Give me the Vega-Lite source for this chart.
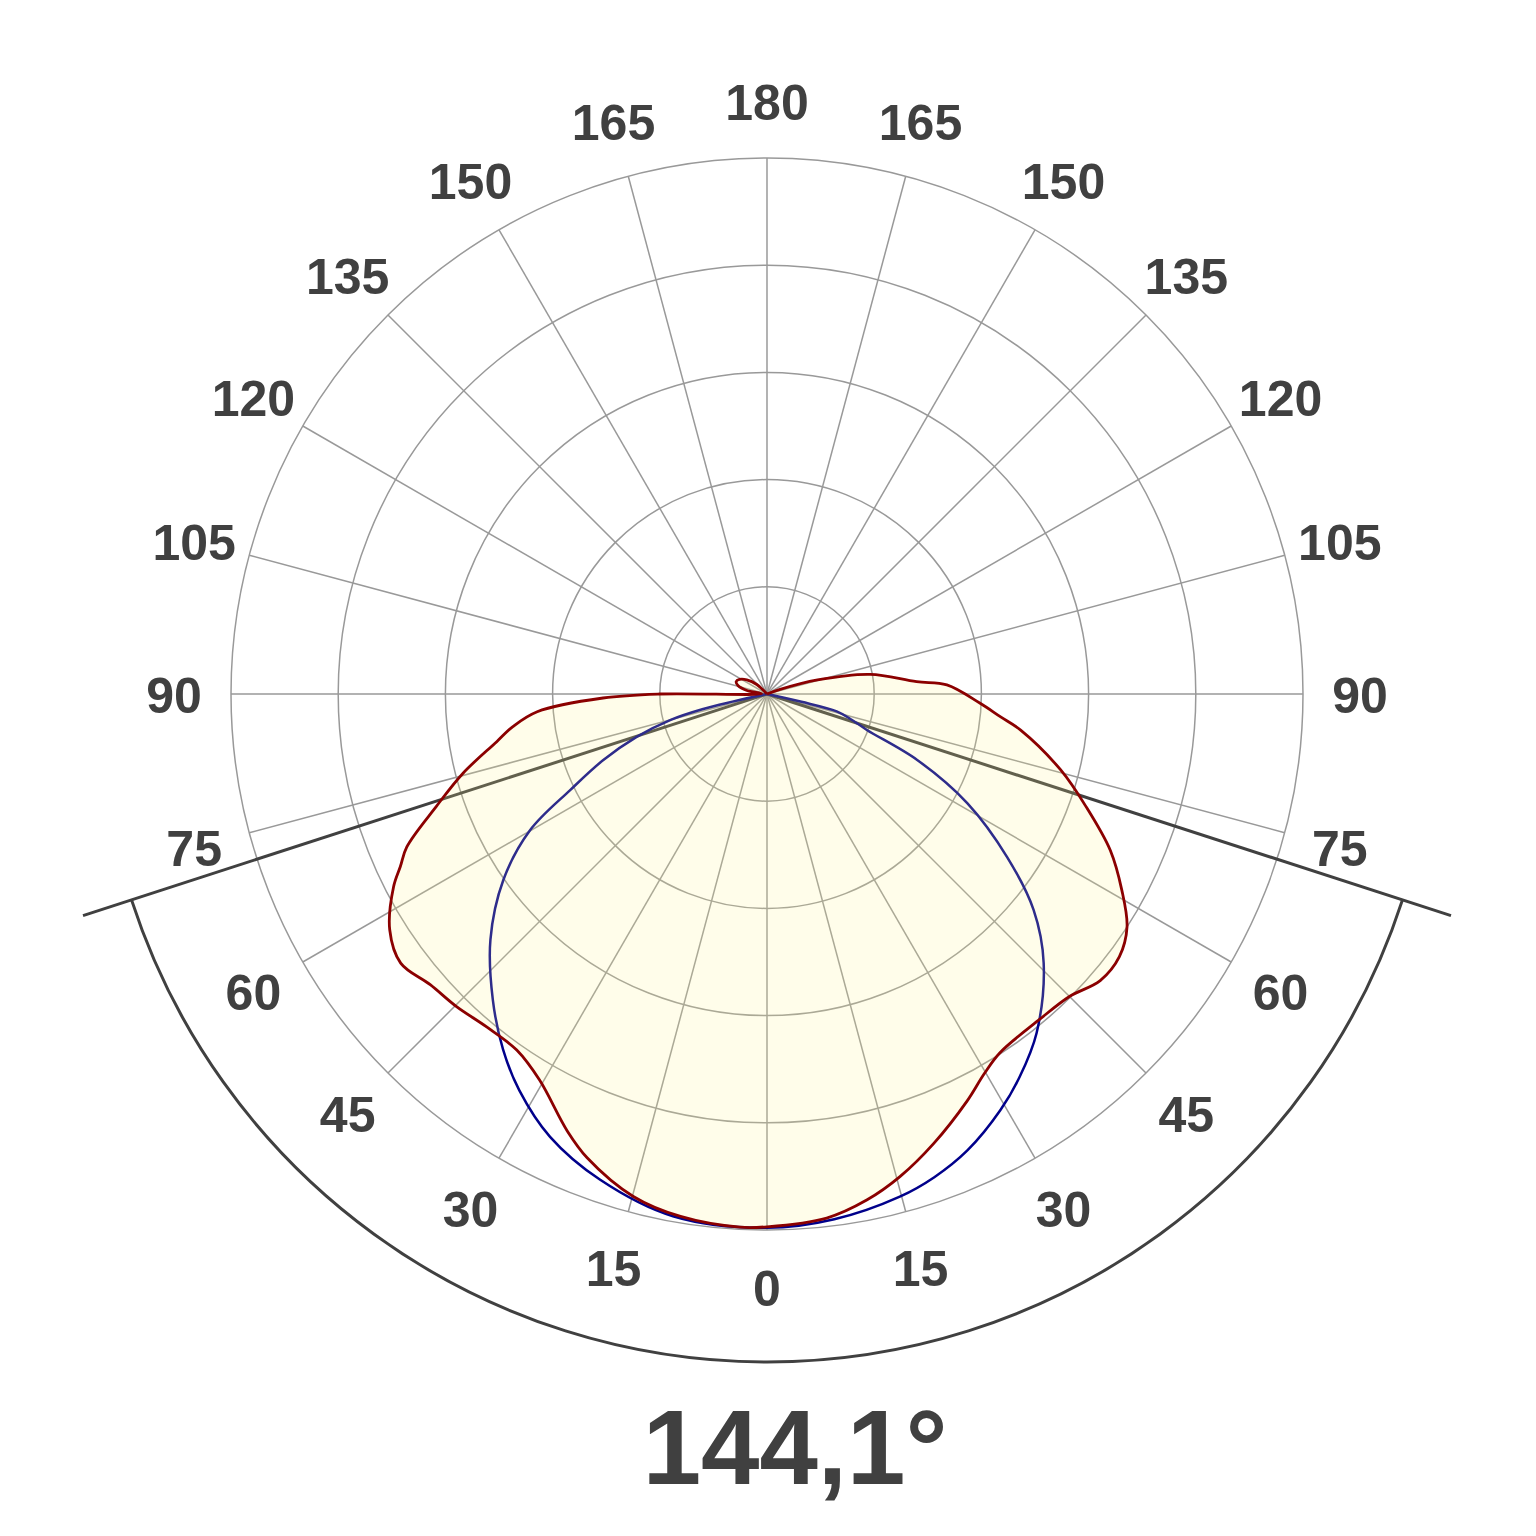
{
  "$schema": "https://vega.github.io/schema/vega-lite/v6.json",
  "width": 1536,
  "height": 1536,
  "padding": 0,
  "autosize": {"type": "none"},
  "background": "white",
  "config": {"view": {"stroke": null}},
  "title": {"text": "144,1°", "orient": "bottom", "frame": "group", "anchor": "middle", "baseline": "alphabetic", "offset": -52, "dx": 27, "fontSize": 105, "fontWeight": "bold", "color": "#404040", "font": "Liberation Sans"},
  "datasets": {
    "red": [
      {"a": -140, "v": 0}, {"a": -133, "v": 13}, {"a": -125, "v": 23}, {"a": -118, "v": 29}, {"a": -112, "v": 31}, {"a": -106, "v": 28}, {"a": -100, "v": 19}, {"a": -93, "v": 5},
      {"a": -90, "v": 100}, {"a": -88.6, "v": 153}, {"a": -85.6, "v": 215}, {"a": -82.7, "v": 239}, {"a": -80, "v": 256}, {"a": -75.4, "v": 293}, {"a": -71.2, "v": 326}, {"a": -67, "v": 365},
      {"a": -64.8, "v": 378}, {"a": -62.7, "v": 392}, {"a": -58, "v": 415}, {"a": -53.7, "v": 424}, {"a": -49.2, "v": 415}, {"a": -44.8, "v": 411}, {"a": -40.1, "v": 406}, {"a": -35.1, "v": 406},
      {"a": -30.5, "v": 418}, {"a": -24.6, "v": 448}, {"a": -21.2, "v": 464}, {"a": -14.9, "v": 485}, {"a": -9.4, "v": 494}, {"a": -2.9, "v": 498}, {"a": 0, "v": 497},
      {"a": 6.5, "v": 492}, {"a": 11.2, "v": 481}, {"a": 15.4, "v": 467}, {"a": 20.4, "v": 447}, {"a": 26.2, "v": 423}, {"a": 29.8, "v": 408}, {"a": 33, "v": 399}, {"a": 40, "v": 396},
      {"a": 45, "v": 399}, {"a": 49.3, "v": 410}, {"a": 53.3, "v": 410}, {"a": 57.1, "v": 400}, {"a": 61.1, "v": 378}, {"a": 65.5, "v": 352}, {"a": 70.5, "v": 316}, {"a": 75.5, "v": 283},
      {"a": 81.9, "v": 239}, {"a": 84.4, "v": 219}, {"a": 87.5, "v": 199}, {"a": 92.9, "v": 168}, {"a": 94.7, "v": 140}, {"a": 100.8, "v": 98}, {"a": 105.6, "v": 49}, {"a": 109.5, "v": 13}, {"a": 113, "v": 0}
    ],
    "blue": [
      {"a": -78.5, "v": 0}, {"a": -77.5, "v": 33}, {"a": -76.8, "v": 62}, {"a": -75, "v": 93}, {"a": -71.8, "v": 128}, {"a": -68, "v": 165}, {"a": -64, "v": 204},
      {"a": -60.1, "v": 255}, {"a": -54.8, "v": 301}, {"a": -48.4, "v": 345}, {"a": -41.9, "v": 383}, {"a": -36.6, "v": 413}, {"a": -32, "v": 436}, {"a": -26.1, "v": 460}, {"a": -19, "v": 479},
      {"a": -10.2, "v": 495}, {"a": 0, "v": 498}, {"a": 7.3, "v": 494}, {"a": 14.8, "v": 485}, {"a": 19.1, "v": 477}, {"a": 23.7, "v": 465}, {"a": 29.3, "v": 445}, {"a": 33.4, "v": 428},
      {"a": 38.5, "v": 404}, {"a": 45.8, "v": 360}, {"a": 51, "v": 320}, {"a": 55.8, "v": 271}, {"a": 61.4, "v": 213}, {"a": 66.3, "v": 153}, {"a": 70.2, "v": 99}, {"a": 73, "v": 83},
      {"a": 76, "v": 67}, {"a": 77.2, "v": 33}, {"a": 78.2, "v": 0}
    ],
    "spokes": [
      {"a": 0}, {"a": 15}, {"a": 30}, {"a": 45}, {"a": 60}, {"a": 75}, {"a": 90}, {"a": 105}, {"a": 120}, {"a": 135}, {"a": 150}, {"a": 165},
      {"a": 180}, {"a": 195}, {"a": 210}, {"a": 225}, {"a": 240}, {"a": 255}, {"a": 270}, {"a": 285}, {"a": 300}, {"a": 315}, {"a": 330}, {"a": 345}
    ],
    "rings": [{"r": 100}, {"r": 200}, {"r": 300}, {"r": 400}, {"r": 500}],
    "labels": [
      {"a": -165, "t": "165"}, {"a": -150, "t": "150"}, {"a": -135, "t": "135"}, {"a": -120, "t": "120"}, {"a": -105, "t": "105"}, {"a": -90, "t": "90"}, {"a": -75, "t": "75"}, {"a": -60, "t": "60"},
      {"a": -45, "t": "45"}, {"a": -30, "t": "30"}, {"a": -15, "t": "15"}, {"a": 0, "t": "0"}, {"a": 15, "t": "15"}, {"a": 30, "t": "30"}, {"a": 45, "t": "45"}, {"a": 60, "t": "60"},
      {"a": 75, "t": "75"}, {"a": 90, "t": "90"}, {"a": 105, "t": "105"}, {"a": 120, "t": "120"}, {"a": 135, "t": "135"}, {"a": 150, "t": "150"}, {"a": 165, "t": "165"}, {"a": 180, "t": "180"}
    ],
    "beam": [{"a": -72.05, "v": 670.7}, {"a": 72.05, "v": 670.7}],
    "beamArc": [{"deg": 144.1}]
  },
  "layer": [
    {
      "data": {"name": "spokes"},
      "transform": [
        {"calculate": "500*sin(datum.a*PI/180)", "as": "x"},
        {"calculate": "-500*cos(datum.a*PI/180)", "as": "y"}
      ],
      "mark": {"type": "rule", "stroke": "#999999", "strokeWidth": 1.5},
      "encoding": {
        "x": {"field": "x", "type": "quantitative", "scale": {"domain": [-715.485, 717.351], "nice": false, "zero": false}, "axis": null},
        "y": {"field": "y", "type": "quantitative", "scale": {"domain": [-785.448, 647.388], "nice": false, "zero": false}, "axis": null},
        "x2": {"datum": 0},
        "y2": {"datum": 0}
      }
    },
    {
      "data": {"name": "rings"},
      "mark": {"type": "point", "shape": "circle", "filled": false, "stroke": "#999999", "strokeWidth": 1.5, "opacity": 1},
      "encoding": {
        "x": {"datum": 0, "type": "quantitative", "scale": {"domain": [-715.485, 717.351], "nice": false, "zero": false}, "axis": null},
        "y": {"datum": 0, "type": "quantitative", "scale": {"domain": [-785.448, 647.388], "nice": false, "zero": false}, "axis": null},
        "size": {"field": "r", "type": "quantitative", "scale": {"type": "pow", "exponent": 2, "domain": [0, 500], "range": [0, 1149184]}, "legend": null}
      }
    },
    {
      "data": {"name": "beam"},
      "transform": [
        {"calculate": "datum.v*sin(datum.a*PI/180)", "as": "x"},
        {"calculate": "-datum.v*cos(datum.a*PI/180)", "as": "y"}
      ],
      "mark": {"type": "rule", "stroke": "#404040", "strokeWidth": 3},
      "encoding": {
        "x": {"field": "x", "type": "quantitative", "scale": {"domain": [-715.485, 717.351], "nice": false, "zero": false}, "axis": null},
        "y": {"field": "y", "type": "quantitative", "scale": {"domain": [-785.448, 647.388], "nice": false, "zero": false}, "axis": null},
        "x2": {"datum": 0},
        "y2": {"datum": 0}
      }
    },
    {
      "data": {"name": "beamArc"},
      "mark": {"type": "arc", "filled": false, "stroke": "#404040", "strokeWidth": 3, "radius": 668, "radius2": 668, "theta": 1.88408, "theta2": 4.39910},
      "encoding": {
        "x": {"datum": 0, "type": "quantitative", "scale": {"domain": [-715.485, 717.351], "nice": false, "zero": false}, "axis": null},
        "y": {"datum": 0, "type": "quantitative", "scale": {"domain": [-785.448, 647.388], "nice": false, "zero": false}, "axis": null}
      }
    },
    {
      "data": {"name": "blue"},
      "transform": [
        {"calculate": "datum.v*sin(datum.a*PI/180)", "as": "x"},
        {"calculate": "-datum.v*cos(datum.a*PI/180)", "as": "y"}
      ],
      "mark": {"type": "line", "stroke": "#00008B", "strokeWidth": 2.5, "interpolate": "catmull-rom"},
      "encoding": {
        "x": {"field": "x", "type": "quantitative", "scale": {"domain": [-715.485, 717.351], "nice": false, "zero": false}, "axis": null},
        "y": {"field": "y", "type": "quantitative", "scale": {"domain": [-785.448, 647.388], "nice": false, "zero": false}, "axis": null},
        "order": {"field": "a", "type": "quantitative"}
      }
    },
    {
      "data": {"name": "red"},
      "transform": [
        {"calculate": "datum.v*sin(datum.a*PI/180)", "as": "x"},
        {"calculate": "-datum.v*cos(datum.a*PI/180)", "as": "y"}
      ],
      "mark": {"type": "line", "fill": "#FFF38A", "fillOpacity": 0.18, "strokeOpacity": 0, "strokeWidth": 0, "interpolate": "catmull-rom"},
      "encoding": {
        "x": {"field": "x", "type": "quantitative", "scale": {"domain": [-715.485, 717.351], "nice": false, "zero": false}, "axis": null},
        "y": {"field": "y", "type": "quantitative", "scale": {"domain": [-785.448, 647.388], "nice": false, "zero": false}, "axis": null},
        "order": {"field": "a", "type": "quantitative"}
      }
    },
    {
      "data": {"name": "red"},
      "transform": [
        {"calculate": "datum.v*sin(datum.a*PI/180)", "as": "x"},
        {"calculate": "-datum.v*cos(datum.a*PI/180)", "as": "y"}
      ],
      "mark": {"type": "line", "stroke": "#8B0000", "strokeWidth": 2.8, "strokeJoin": "round", "interpolate": "catmull-rom"},
      "encoding": {
        "x": {"field": "x", "type": "quantitative", "scale": {"domain": [-715.485, 717.351], "nice": false, "zero": false}, "axis": null},
        "y": {"field": "y", "type": "quantitative", "scale": {"domain": [-785.448, 647.388], "nice": false, "zero": false}, "axis": null},
        "order": {"field": "a", "type": "quantitative"}
      }
    },
    {
      "data": {"name": "labels"},
      "transform": [
        {"calculate": "553.2*sin(datum.a*PI/180)", "as": "x"},
        {"calculate": "-553.2*cos(datum.a*PI/180)", "as": "y"}
      ],
      "mark": {"type": "text", "font": "Liberation Sans", "fontSize": 50, "fontWeight": "bold", "color": "#404040", "align": "center", "baseline": "middle", "dy": 4},
      "encoding": {
        "x": {"field": "x", "type": "quantitative", "scale": {"domain": [-715.485, 717.351], "nice": false, "zero": false}, "axis": null},
        "y": {"field": "y", "type": "quantitative", "scale": {"domain": [-785.448, 647.388], "nice": false, "zero": false}, "axis": null},
        "text": {"field": "t"}
      }
    }
  ]
}
